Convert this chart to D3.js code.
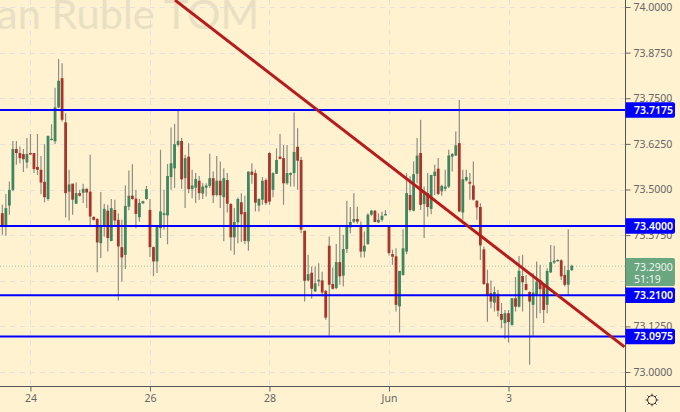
<!DOCTYPE html>
<html><head><meta charset="utf-8">
<script src="https://cdn.jsdelivr.net/npm/d3@7/dist/d3.min.js"></script>
<style>html,body{margin:0;padding:0;background:#fef2d0;overflow:hidden}svg{display:block}</style>
</head><body><svg id="c" width="680" height="412"></svg>
<script>
const highs=[
73.458,73.488,73.522,73.633,73.633,73.618,73.611,73.641,73.652,73.600,73.652,73.592,73.624,73.647,73.679,73.779,73.858,73.846,73.709,73.554,
73.516,73.519,73.499,73.516,73.503,73.595,73.426,73.422,73.493,73.461,73.458,73.474,73.472,73.435,73.417,73.511,73.552,73.569,73.499,73.474,
73.469,73.510,73.474,73.344,73.403,73.609,73.499,73.570,73.670,73.680,73.718,73.641,73.595,73.627,73.554,73.545,73.537,73.517,73.517,73.598,
73.549,73.592,73.577,73.558,73.545,73.463,73.449,73.478,73.490,73.483,73.549,73.572,73.554,73.476,73.534,73.531,73.602,73.547,73.613,73.652,
73.622,73.622,73.547,73.711,73.668,73.590,73.387,73.321,73.289,73.289,73.298,73.275,73.225,73.371,73.286,73.351,73.399,73.376,73.469,73.452,
73.490,73.453,73.412,73.385,73.435,73.444,73.443,73.435,73.439,73.444,73.400,73.335,73.339,73.277,73.391,73.545,73.536,73.577,73.641,73.691,
73.508,73.545,73.540,73.568,73.586,73.513,73.554,73.609,73.600,73.659,73.746,73.554,73.554,73.545,73.577,73.471,73.462,73.344,73.280,73.251,
73.234,73.225,73.189,73.170,73.170,73.202,73.260,73.318,73.321,73.266,73.221,73.271,73.303,73.294,73.243,73.284,73.348,73.346,73.309,73.309,
73.291,73.391,73.294];
const lows=[
73.376,73.373,73.431,73.495,73.568,73.572,73.548,73.558,73.595,73.545,73.540,73.487,73.465,73.469,73.635,73.625,73.723,73.686,73.423,73.415,
73.431,73.460,73.481,73.463,73.449,73.403,73.415,73.273,73.312,73.371,73.330,73.358,73.403,73.196,73.248,73.282,73.443,73.472,73.394,73.412,
73.461,73.472,73.315,73.262,73.271,73.367,73.390,73.350,73.499,73.504,73.618,73.502,73.449,73.490,73.476,73.463,73.472,73.474,73.481,73.504,
73.463,73.481,73.449,73.358,73.437,73.332,73.321,73.353,73.356,73.351,73.332,73.516,73.440,73.440,73.458,73.458,73.458,73.479,73.543,73.583,
73.458,73.513,73.508,73.508,73.499,73.380,73.193,73.248,73.201,73.219,73.235,73.207,73.143,73.099,73.226,73.227,73.239,73.234,73.326,73.380,
73.408,73.406,73.314,73.314,73.348,73.428,73.410,73.408,73.412,73.429,73.319,73.294,73.166,73.108,73.264,73.323,73.440,73.440,73.517,73.444,
73.367,73.426,73.432,73.485,73.485,73.483,73.495,73.504,73.549,73.592,73.438,73.417,73.522,73.472,73.470,73.417,73.307,73.239,73.138,73.175,
73.166,73.152,73.120,73.091,73.081,73.127,73.166,73.177,73.166,73.223,73.020,73.097,73.147,73.161,73.134,73.161,73.271,73.296,73.303,73.252,
73.234,73.209,73.277];
const opens=[
73.435,73.399,73.456,73.499,73.611,73.600,73.597,73.574,73.600,73.600,73.562,73.554,73.521,73.474,73.637,73.632,73.725,73.805,73.684,73.494,
73.516,73.461,73.490,73.491,73.502,73.494,73.425,73.419,73.353,73.401,73.442,73.359,73.444,73.417,73.342,73.321,73.453,73.483,73.475,73.424,
73.462,73.474,73.444,73.342,73.303,73.394,73.430,73.429,73.534,73.558,73.622,73.633,73.531,73.590,73.501,73.505,73.524,73.489,73.505,73.510,
73.531,73.485,73.524,73.479,73.526,73.460,73.369,73.410,73.465,73.438,73.358,73.549,73.545,73.456,73.472,73.526,73.600,73.499,73.543,73.590,
73.586,73.517,73.540,73.545,73.617,73.581,73.387,73.251,73.272,73.221,73.248,73.251,73.222,73.346,73.241,73.230,73.301,73.264,73.337,73.396,
73.412,73.419,73.403,73.330,73.351,73.431,73.442,73.410,73.417,73.430,73.399,73.323,73.317,73.180,73.266,73.330,73.485,73.442,73.543,73.600,
73.460,73.490,73.447,73.537,73.557,73.495,73.502,73.508,73.590,73.593,73.627,73.437,73.525,73.521,73.511,73.469,73.452,73.336,73.243,73.216,
73.190,73.214,73.159,73.134,73.161,73.129,73.202,73.179,73.263,73.241,73.219,73.184,73.209,73.252,73.239,73.184,73.273,73.300,73.304,73.306,
73.266,73.239,73.279];
const closes=[
73.399,73.449,73.499,73.611,73.600,73.586,73.583,73.597,73.596,73.556,73.554,73.519,73.479,73.647,73.639,73.725,73.798,73.691,73.490,73.514,
73.472,73.490,73.483,73.502,73.492,73.426,73.417,73.355,73.399,73.447,73.367,73.449,73.415,73.344,73.314,73.455,73.483,73.474,73.433,73.463,
73.468,73.501,73.342,73.303,73.397,73.440,73.435,73.537,73.572,73.624,73.633,73.528,73.586,73.501,73.511,73.529,73.490,73.508,73.511,73.531,
73.484,73.524,73.484,73.531,73.461,73.369,73.411,73.474,73.432,73.359,73.549,73.540,73.464,73.474,73.524,73.463,73.467,73.545,73.581,73.584,
73.517,73.545,73.545,73.603,73.579,73.390,73.250,73.268,73.228,73.243,73.253,73.218,73.149,73.239,73.228,73.301,73.262,73.337,73.399,73.411,
73.419,73.412,73.330,73.346,73.431,73.442,73.411,73.417,73.428,73.433,73.326,73.316,73.184,73.277,73.339,73.490,73.444,73.542,73.593,73.458,
73.495,73.452,73.540,73.549,73.488,73.510,73.508,73.593,73.597,73.621,73.440,73.528,73.534,73.516,73.472,73.451,73.347,73.241,73.211,73.193,
73.219,73.168,73.143,73.161,73.137,73.202,73.179,73.277,73.246,73.225,73.193,73.218,73.248,73.227,73.170,73.277,73.301,73.305,73.307,73.262,
73.239,73.279,73.291];
const gridPrices=[74,73.875,73.75,73.625,73.5,73.375,73.25,73.125,73];
const labelPrices=[74,73.875,73.75,73.625,73.5,73.375,73.125,73];
const dateTicks=[8,42,76,110,144];
const dateLabels=["24","26","28","Jun","3"];
const levels=[73.7175,73.4,73.21,73.0975];
const lastPrice=73.29;
const countdown="51:19";
const trendIdx=[49.1,177];
const trendPrice=[74.019,73.069];

const W=680,H=412,axisX=625.5,axisY=386.5;
const fmt=d3.format(".4f");
const x=d3.scaleLinear().domain([0,177]).range([2.33,624.5]);
const y=d3.scaleLinear().domain([73,74]).range([372,7]);
const svg=d3.select("#c");
svg.append("defs").append("clipPath").attr("id","plot").append("rect").attr("width",axisX).attr("height",axisY);
const plot=svg.append("g").attr("clip-path","url(#plot)");
const FONT="'Noto Sans',sans-serif";

plot.append("text").text("an Ruble TOM").attr("x",-3).attr("y",29)
  .attr("font-family","Lato,sans-serif").attr("font-size",41.5).attr("fill","#e9e0c4");

const grid=plot.append("g").attr("stroke","#e4e2da").attr("stroke-width",1).attr("stroke-dasharray","5,5");
grid.selectAll("line.h").data(gridPrices).join("line").attr("class","h")
  .attr("x1",0).attr("x2",axisX).attr("y1",d=>Math.round(y(d))+.5).attr("y2",d=>Math.round(y(d))+.5);
grid.selectAll("line.v").data(dateTicks).join("line").attr("class","v")
  .attr("y1",0).attr("y2",axisY).attr("x1",d=>Math.round(x(d))+.5).attr("x2",d=>Math.round(x(d))+.5);

plot.append("line").attr("x1",0).attr("x2",axisX).attr("y1",y(lastPrice)).attr("y2",y(lastPrice))
  .attr("stroke","#9cc7a6").attr("stroke-width",1).attr("stroke-dasharray","1,2");

const candles=plot.append("g");
const idx=d3.range(highs.length);
candles.selectAll("line").data(idx).join("line")
  .attr("x1",i=>x(i)).attr("x2",i=>x(i)).attr("y1",i=>y(highs[i])).attr("y2",i=>y(lows[i]))
  .attr("stroke","#8f8d84").attr("stroke-width",1.2);
candles.selectAll("rect").data(idx).join("rect")
  .attr("x",i=>x(i)-1.4).attr("width",2.8)
  .attr("y",i=>y(Math.max(opens[i],closes[i])))
  .attr("height",i=>Math.max(1.4,Math.abs(y(opens[i])-y(closes[i]))))
  .attr("fill",i=>closes[i]>=opens[i]?"#3f8560":"#a8352a");

plot.append("g").selectAll("line").data(levels).join("line")
  .attr("x1",0).attr("x2",axisX).attr("y1",d=>y(d)).attr("y2",d=>y(d))
  .attr("stroke","#0000ff").attr("stroke-width",2);

plot.append("line").attr("x1",x(trendIdx[0])).attr("y1",y(trendPrice[0])).attr("x2",x(trendIdx[1])).attr("y2",y(trendPrice[1]))
  .attr("stroke","#b71c1c").attr("stroke-width",3);

const ya=svg.append("g").attr("transform",`translate(${axisX},0)`)
  .call(d3.axisRight(y).tickValues(labelPrices).tickFormat(fmt).tickSize(5).tickPadding(3));
ya.select(".domain").remove();
ya.selectAll("text").attr("font-family",FONT).attr("font-size",10.5).attr("fill","#666");
ya.selectAll("line").attr("stroke","#666");
const xa=svg.append("g").attr("transform",`translate(0,${axisY})`)
  .call(d3.axisBottom(x).tickValues(dateTicks).tickFormat((d,i)=>dateLabels[i]).tickSize(5).tickPadding(3));
xa.select(".domain").remove();
xa.selectAll("text").attr("font-family",FONT).attr("font-size",10.5).attr("fill","#666");
xa.selectAll("line").attr("stroke","#666");
svg.append("line").attr("x1",axisX).attr("x2",axisX).attr("y1",0).attr("y2",H).attr("stroke","#555");
svg.append("line").attr("x1",0).attr("x2",W).attr("y1",axisY).attr("y2",axisY).attr("stroke","#555");

function tag(yc,h,fill){
  return svg.append("path").attr("fill",fill)
   .attr("d",`M${axisX} ${yc-h/2}H673q2 0 2 2V${yc+h/2-2}q0 2 -2 2H${axisX}Z`);
}
tag(272,28,"#6aa680");
svg.append("text").text(fmt(lastPrice)).attr("x",634).attr("y",270.5).attr("font-family",FONT).attr("font-size",10.5).attr("fill","#fff").attr("opacity",.9);
svg.append("text").text(countdown).attr("x",634).attr("y",282.5).attr("font-family",FONT).attr("font-size",10.5).attr("fill","#fff").attr("opacity",.9);
levels.forEach(d=>{
  const yc=y(d);
  tag(yc,15.5,"#0000ff");
  svg.append("text").text(fmt(d)).attr("x",634).attr("y",yc+3.8).attr("font-family",FONT).attr("font-size",10.5).attr("font-weight",600).attr("fill","#fff");
});

const ic=svg.append("g").attr("transform","translate(652,400)").attr("stroke","#333").attr("fill","none");
ic.append("circle").attr("r",4.4).attr("stroke-width",1);
d3.range(8).forEach(k=>{
  const a=k*Math.PI/4;
  ic.append("line").attr("x1",4.4*Math.cos(a)).attr("y1",4.4*Math.sin(a)).attr("x2",6.3*Math.cos(a)).attr("y2",6.3*Math.sin(a)).attr("stroke-width",1);
});
</script></body></html>
